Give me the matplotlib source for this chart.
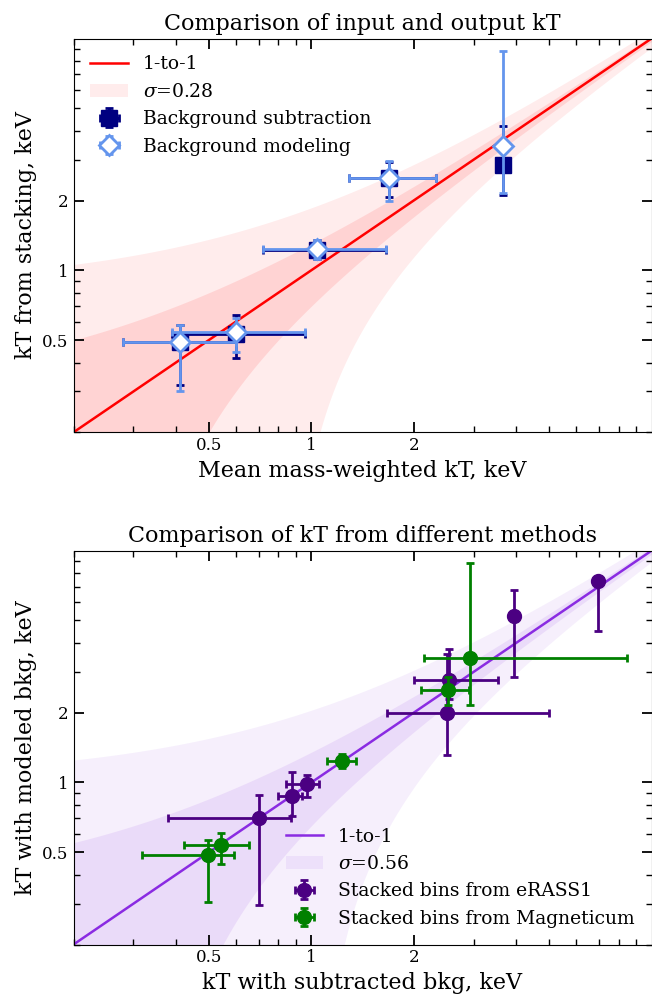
import numpy as np
import matplotlib.pyplot as plt
from matplotlib.ticker import FixedLocator, FixedFormatter, NullFormatter

plt.rcParams['font.family'] = 'DejaVu Serif'
plt.rcParams['mathtext.fontset'] = 'dejavuserif'

# ---- top panel: input vs output kT ----
sub_x = [0.41, 0.60, 1.04, 1.69, 3.67]
sub_xlo = [0.28, 0.39, 0.72, 1.29, 3.67]
sub_xhi = [0.60, 0.96, 1.66, 2.33, 3.67]
sub_y = [0.49, 0.53, 1.22, 2.50, 2.84]
sub_ylo = [0.32, 0.42, 1.12, 2.07, 2.12]
sub_yhi = [0.58, 0.64, 1.35, 2.92, 4.20]

mod_x = [0.41, 0.60, 1.04, 1.69, 3.67]
mod_xlo = [0.28, 0.39, 0.72, 1.29, 3.67]
mod_xhi = [0.60, 0.96, 1.66, 2.33, 3.67]
mod_y = [0.49, 0.54, 1.23, 2.50, 3.45]
mod_ylo = [0.30, 0.445, 1.12, 1.99, 2.15]
mod_yhi = [0.58, 0.62, 1.35, 2.97, 8.80]

# half-widths (keV) of the shaded bands around 1-to-1
top_bands = [0.86, 0.30]
bot_bands = [1.05, 0.35]

# ---- bottom panel: subtracted vs modeled bkg ----
er_x = [0.70, 0.877, 0.972, 2.51, 2.54, 3.93, 6.95]
er_xlo = [0.38, 0.80, 0.842, 1.67, 2.00, 3.93, 6.95]
er_xhi = [0.87, 0.938, 1.055, 4.99, 3.55, 3.93, 6.95]
er_y = [0.70, 0.876, 0.987, 1.99, 2.78, 5.24, 7.37]
er_ylo = [0.297, 0.719, 0.862, 1.31, 2.30, 2.86, 4.52]
er_yhi = [0.885, 1.115, 1.079, 3.59, 3.77, 6.76, 7.60]

mg_x = [0.496, 0.542, 1.23, 2.53, 2.92]
mg_xlo = [0.319, 0.423, 1.11, 2.095, 2.14]
mg_xhi = [0.593, 0.654, 1.35, 2.91, 8.46]
mg_y = [0.488, 0.539, 1.235, 2.50, 3.45]
mg_ylo = [0.305, 0.445, 1.152, 2.17, 2.17]
mg_yhi = [0.567, 0.604, 1.324, 2.85, 8.83]

lims = (0.2, 10)
xx = np.geomspace(lims[0], lims[1], 400)


def errs(v, lo, hi):
    v, lo, hi = np.array(v), np.array(lo), np.array(hi)
    return np.vstack([v - lo, hi - v])


def style(ax):
    ax.set_xscale('log')
    ax.set_yscale('log')
    ax.set_xlim(lims)
    ax.set_ylim(lims)
    for a in (ax.xaxis, ax.yaxis):
        a.set_major_locator(FixedLocator([0.5, 1, 2]))
        a.set_major_formatter(FixedFormatter(['0.5', '1', '2']))
        a.set_minor_formatter(NullFormatter())
    ax.tick_params(which='both', direction='in', top=True, right=True,
                   labelsize=12)
    ax.tick_params(which='major', length=7, width=1.3)
    ax.tick_params(which='minor', length=4, width=1.0)


def draw(ax, bands, color, sig_label):
    for i, d in enumerate(bands):
        ax.fill_between(xx, np.clip(xx - d, 1e-3, None), xx + d, color=color,
                        alpha=0.075 if i == 0 else 0.1, lw=0, zorder=1,
                        label=sig_label if i == 0 else None)
    ax.plot(lims, lims, color=color, lw=1.8, label='1-to-1', zorder=2)


fig = plt.figure(figsize=(6.52, 9.94), dpi=100)
W, H = 652., 994.
ax1 = fig.add_axes([73.5 / W, 1 - 432.3 / H, 578 / W, 393.8 / H])
ax2 = fig.add_axes([73.5 / W, 1 - 944.5 / H, 578 / W, 393.8 / H])

eb = dict(elinewidth=2, capsize=3, capthick=2)

# top
draw(ax1, top_bands, 'red', r'$\sigma$=0.28')
ax1.errorbar(sub_x, sub_y, xerr=errs(sub_x, sub_xlo, sub_xhi),
             yerr=errs(sub_y, sub_ylo, sub_yhi), fmt='s', color='navy',
             ms=11, zorder=3, label='Background subtraction', **eb)
ax1.errorbar(mod_x, mod_y, xerr=errs(mod_x, mod_xlo, mod_xhi),
             yerr=errs(mod_y, mod_ylo, mod_yhi), fmt='D', color='cornflowerblue',
             mfc='white', mec='cornflowerblue', mew=2, ms=10, zorder=4,
             label='Background modeling', **eb)
style(ax1)
ax1.set_title('Comparison of input and output kT', fontsize=16)
ax1.set_xlabel('Mean mass-weighted kT, keV', fontsize=16)
ax1.set_ylabel('kT from stacking, keV', fontsize=16)
h, l = ax1.get_legend_handles_labels()
order = [l.index('1-to-1'), l.index(r'$\sigma$=0.28'),
         l.index('Background subtraction'), l.index('Background modeling')]
ax1.legend([h[i] for i in order], [l[i] for i in order], loc='upper left',
           frameon=False, fontsize=13.5)

# bottom
draw(ax2, bot_bands, 'blueviolet', r'$\sigma$=0.56')
ax2.errorbar(er_x, er_y, xerr=errs(er_x, er_xlo, er_xhi),
             yerr=errs(er_y, er_ylo, er_yhi), fmt='o', color='indigo',
             ms=10, zorder=3, label='Stacked bins from eRASS1', **eb)
ax2.errorbar(mg_x, mg_y, xerr=errs(mg_x, mg_xlo, mg_xhi),
             yerr=errs(mg_y, mg_ylo, mg_yhi), fmt='o', color='green',
             ms=10, zorder=4, label='Stacked bins from Magneticum', **eb)
style(ax2)
ax2.set_title('Comparison of kT from different methods', fontsize=16)
ax2.set_xlabel('kT with subtracted bkg, keV', fontsize=16)
ax2.set_ylabel('kT with modeled bkg, keV', fontsize=16)
h, l = ax2.get_legend_handles_labels()
order = [l.index('1-to-1'), l.index(r'$\sigma$=0.56'),
         l.index('Stacked bins from eRASS1'), l.index('Stacked bins from Magneticum')]
ax2.legend([h[i] for i in order], [l[i] for i in order], loc='lower right',
           frameon=False, fontsize=13.5)

fig.savefig('out.png', dpi=100)
